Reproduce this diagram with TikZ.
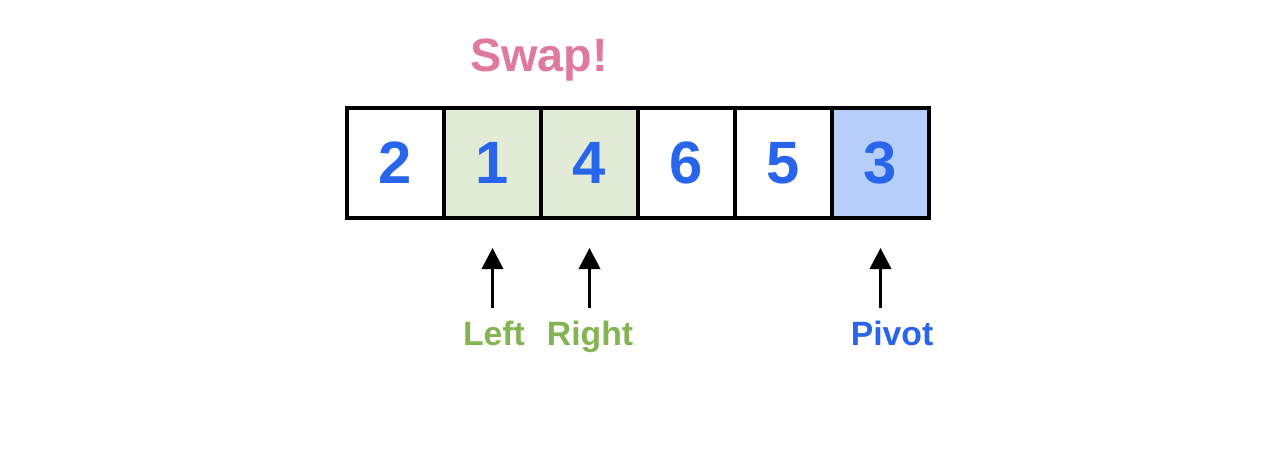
\documentclass[tikz,border=0pt]{standalone}
\usepackage{fontspec}
\setmainfont{Liberation Sans}
\usepackage{tikz}
\definecolor{DigitBlue}{RGB}{40,100,236}
\definecolor{SwapPink}{RGB}{224,122,154}
\definecolor{PtrGreen}{RGB}{130,180,82}
\definecolor{CellGreen}{RGB}{226,235,214}
\definecolor{CellBlue}{RGB}{182,206,248}
\usetikzlibrary{arrows.meta,positioning,calc}

\begin{document}
\begin{tikzpicture}[>={Triangle[width=6pt,length=6pt]}, every node/.style={font=\bfseries}]
        \useasboundingbox (0,0) rectangle (12.82,4.74);
        \tikzset{cell/.style={draw, line width=1.1pt, minimum width=0.97cm, minimum height=1.10cm, inner sep=0pt, text=DigitBlue, font=\bfseries\fontsize{17}{20}\selectfont},
                 ptr/.style={anchor=base, inner sep=0pt, font=\bfseries\fontsize{9.6}{11}\selectfont}}

        % Draw the array cells
        \foreach \v/\f[count=\c,evaluate={\ci=int(\c-1)}] in {2/white, 1/CellGreen, 4/CellGreen, 6/white, 5/white, 3/CellBlue}{
            \node[cell, fill=\f] (c\ci) at (3.955+0.97*\ci,3.11) {\v};
        }

        % the swap message
        \node[anchor=base, inner sep=0pt, text=SwapPink, font=\bfseries\fontsize{13.3}{16}\selectfont] (swap) at (5.39,4.02) {Swap!};

        % Draw the pointer arrows
        \foreach \i/\n in {1/L, 2/R, 5/P}{
            \coordinate (tip\n) at ($(c\i.south)+(0,-0.28)$);
            \coordinate (tail\n) at ($(c\i.south)+(0,-0.88)$);
            \draw[->, line width=1pt] (tail\n) -- (tip\n);
        }

        % pointer names
        \node[ptr, text=PtrGreen] (lblL) at (4.94,1.28) {Left};
        \node[ptr, text=PtrGreen] (lblR) at (5.90,1.28) {Right};
        \node[ptr, text=DigitBlue] (lblP) at (8.92,1.28) {Pivot};
\end{tikzpicture}
\end{document}
